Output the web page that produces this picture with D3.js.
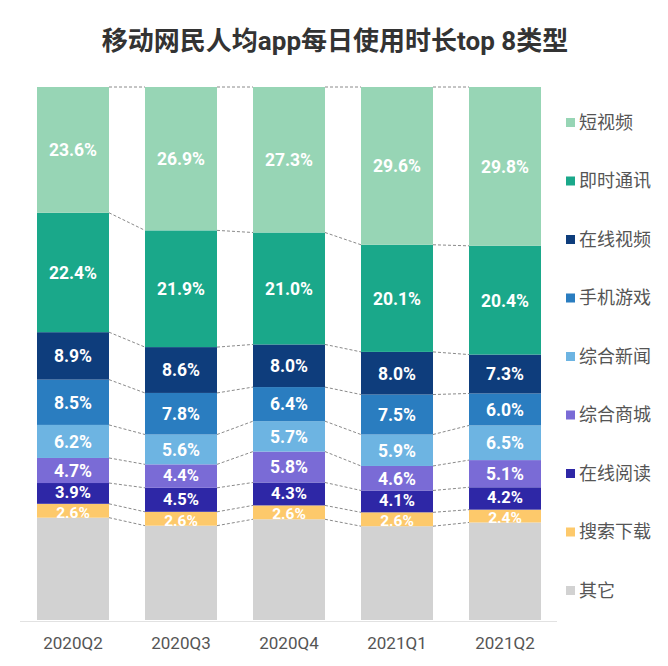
<!DOCTYPE html>
<html><head><meta charset="utf-8">
<script src="https://cdn.jsdelivr.net/npm/d3@7"></script>
<style>
body{margin:0;background:#fff;}
svg{display:block;}
</style></head>
<body>
<svg id="chart" width="668" height="666"></svg>
<script>
const quarters = ["2020Q2","2020Q3","2020Q4","2021Q1","2021Q2"];
const seriesNames = ["短视频","即时通讯","在线视频","手机游戏","综合新闻","综合商城","在线阅读","搜索下载","其它"];
const shortVideo = [23.6,26.9,27.3,29.6,29.8];
const instantMsg = [22.4,21.9,21.0,20.1,20.4];
const onlineVideo = [8.9,8.6,8.0,8.0,7.3];
const mobileGame = [8.5,7.8,6.4,7.5,6.0];
const news = [6.2,5.6,5.7,5.9,6.5];
const mall = [4.7,4.4,5.8,4.6,5.1];
const reading = [3.9,4.5,4.3,4.1,4.2];
const searchDl = [2.6,2.6,2.6,2.6,2.4];
const others = [19.2,17.7,18.9,17.6,18.3];
const seriesValues = [shortVideo,instantMsg,onlineVideo,mobileGame,news,mall,reading,searchDl,others];
const colors = ["#97d5b5","#1aa88a","#0e3d7c","#2a7dc0","#6db4e2","#7a6bd6","#2e27a6","#fdc96b","#d2d2d2"];
const showLabel = [true,true,true,true,true,true,true,true,false];

const svg = d3.select("#chart");
const font = "Roboto, 'Noto Sans CJK SC', sans-serif";

const table = quarters.map((q,i)=>{
  const o = {q};
  seriesNames.forEach((s,j)=>o[s]=seriesValues[j][i]);
  return o;
});
const stackKeys = seriesNames.slice().reverse();
const stacked = d3.stack().keys(stackKeys)(table);

const x = d3.scaleBand().domain(quarters).range([19,559]).paddingInner(1/3).paddingOuter(1/6);
const y = d3.scaleLinear().domain([0,100]).range([620,87]);
const color = d3.scaleOrdinal().domain(seriesNames).range(colors);

svg.append("text").attr("x",335).attr("y",50).attr("text-anchor","middle")
  .attr("font-family",font).attr("font-weight","bold").attr("font-size",26).attr("fill","#333")
  .text("移动网民人均app每日使用时长top 8类型");

svg.append("line").attr("x1",20).attr("x2",557).attr("y1",621.5).attr("y2",621.5)
  .attr("stroke","#e2e2e2").attr("stroke-width",1);

const conn = svg.append("g");
stacked.forEach(layer=>{
  for(let i=0;i<quarters.length-1;i++){
    const a = layer[i], b = layer[i+1];
    conn.append("line")
      .attr("x1",x(quarters[i])+x.bandwidth()).attr("x2",x(quarters[i+1]))
      .attr("y1",y(a[1])).attr("y2",y(b[1]))
      .attr("stroke","#8a8a8a").attr("stroke-width",1).attr("stroke-dasharray","3,2");
  }
});

const g = svg.append("g");
stacked.forEach(layer=>{
  const key = layer.key;
  const idx = seriesNames.indexOf(key);
  g.selectAll(null).data(layer).enter().append("rect")
    .attr("x",d=>x(d.data.q)).attr("width",x.bandwidth())
    .attr("y",d=>y(d[1])).attr("height",d=>y(d[0])-y(d[1]))
    .attr("fill",color(key));
  if(showLabel[idx]){
    g.selectAll(null).data(layer).enter().append("text")
      .attr("x",d=>x(d.data.q)+x.bandwidth()/2)
      .attr("y",d=>{
        const h = y(d[0])-y(d[1]);
        return (y(d[0])+y(d[1]))/2 + (h<16 ? 1.5 : (h<24 ? -1 : 0));
      })
      .attr("dy","0.36em").attr("text-anchor","middle")
      .attr("font-family",font).attr("font-weight","bold")
      .attr("font-size",d=>{
        const h = y(d[0])-y(d[1]);
        return h<16 ? 15.5 : (h<24 ? 16.5 : 17.5);
      })
      .attr("fill","#fff")
      .text(d=>(d[1]-d[0]).toFixed(1)+"%");
  }
});

svg.append("g").selectAll("text").data(quarters).enter().append("text")
  .attr("x",d=>x(d)+x.bandwidth()/2).attr("y",649).attr("text-anchor","middle")
  .attr("font-family",font).attr("font-size",17).attr("fill","#555").text(d=>d);

const leg = svg.append("g");
seriesNames.forEach((s,i)=>{
  const ly = 122.5 + i*58.5;
  leg.append("rect").attr("x",566).attr("y",ly-4.5).attr("width",9).attr("height",9).attr("fill",colors[i]);
  leg.append("text").attr("x",579).attr("y",ly).attr("dy","0.36em")
    .attr("font-family","'Noto Sans CJK SC', sans-serif").attr("font-size",18).attr("fill","#555").text(s);
});
</script>
</body></html>
